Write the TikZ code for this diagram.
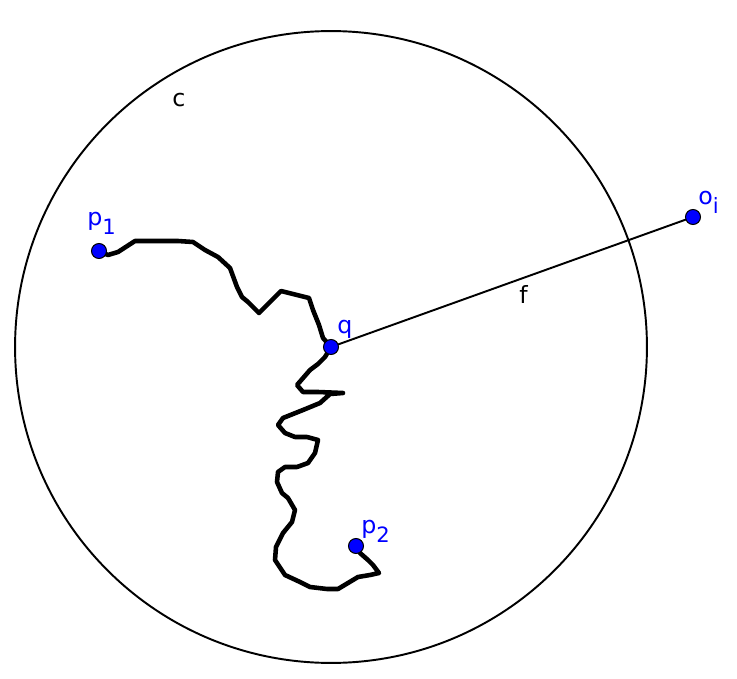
\documentclass[tikz,border=0pt]{standalone}
\usepackage{fontspec}
\setsansfont{DejaVu Sans}
\usetikzlibrary{backgrounds}
\tikzset{
  dot/.style = {circle, draw=black, line width=0.6pt, fill=blue,
    inner sep=0pt, minimum size=0.3cm},% point bleu
  lbl/.style = {anchor=base west, inner sep=0pt, font=\sffamily\fontsize{13.5}{16}\selectfont},
  ptlbl/.style = {lbl, blue},
  walk/.style = {line width=2.6pt, line join=round, line cap=round},% chemin
  ring/.style = {line width=1.1pt}
}
\newcommand{\lsub}[1]{\raisebox{-5.5pt}{\fontsize{12}{14}\selectfont #1}}

\begin{document}
\begin{tikzpicture}[x=0.02cm,y=-0.02cm]
    \useasboundingbox (0,0) rectangle (737,679);
    \node [dot] (q) at (331,347) {};
    \node [dot] (p1) at (99,251) {};
    \node [dot] (p2) at (356,546) {};
    \node [dot] (oi) at (693,217) {};
    \begin{scope}[on background layer]
        \draw [ring] (q.center) circle [radius=6.32cm];
        \draw [line width=1.1pt] (q.center) -- (oi.center);
        \draw [walk] (p1.center) -- (108,255) -- (118,252) -- (135,241) -- (178,241)
            -- (193,242) -- (205,250) -- (218,257) -- (230,268) -- (237,287)
            -- (242,297) -- (248,302) -- (259,313) -- (272,300) -- (281,291)
            -- (309,298) -- (313,310) -- (319,325) -- (323,338) -- (q.center)
            -- (325,357) -- (318,364) -- (310,370) -- (297,385) -- (303,392)
            -- (318,392) -- (343,393) -- (330,394) -- (320,403) -- (303,410)
            -- (283,418) -- (278,425) -- (285,433) -- (295,437) -- (307,437)
            -- (318,440) -- (315,453) -- (308,463) -- (297,467) -- (285,467)
            -- (278,472) -- (277,482) -- (282,493) -- (288,498) -- (295,510)
            -- (292,522) -- (283,533) -- (276,547) -- (275,560) -- (285,575)
            -- (300,582) -- (310,587) -- (327,589) -- (338,589) -- (348,583)
            -- (358,577) -- (370,575) -- (379,573) -- (373,565) -- (368,560)
            -- (360,553) -- (p2.center);
    \end{scope}
    % textes
    \node [lbl] (lc) at (172,107) {c};
    \node [lbl] (lf) at (519,303) {f};
    \node [ptlbl] (lq) at (337,333) {q};
    \node [ptlbl] (lp1) at (87,225) {p\lsub{1}};
    \node [ptlbl] (lp2) at (361,533) {p\lsub{2}};
    \node [ptlbl] (loi) at (698,204) {o\lsub{i}};
\end{tikzpicture}
\end{document}
